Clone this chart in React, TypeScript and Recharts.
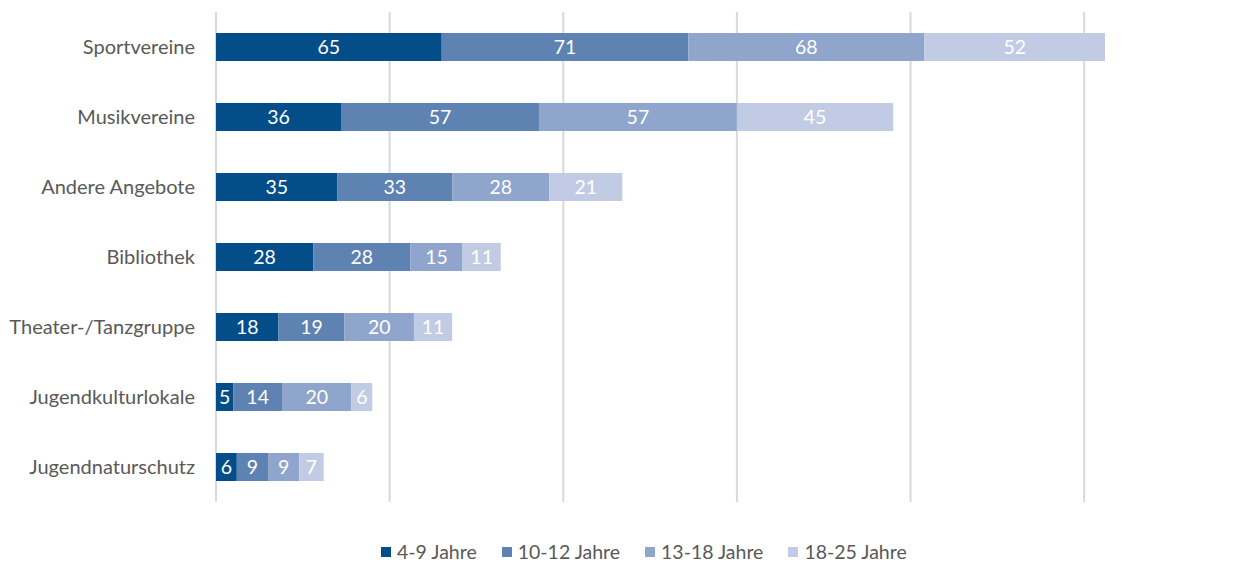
import { Bar, BarChart, CartesianGrid, LabelList, Legend, XAxis, YAxis } from "recharts";

const categories = [
  "Sportvereine",
  "Musikvereine",
  "Andere Angebote",
  "Bibliothek",
  "Theater-/Tanzgruppe",
  "Jugendkulturlokale",
  "Jugendnaturschutz",
];
const age4to9 = [65, 36, 35, 28, 18, 5, 6];
const age10to12 = [71, 57, 33, 28, 19, 14, 9];
const age13to18 = [68, 57, 28, 15, 20, 20, 9];
const age18to25 = [52, 45, 21, 11, 11, 6, 7];
const xTicks = [0, 50, 100, 150, 200, 250];
const X_MAX = 256;

const series = [
  { key: "a", name: "4-9 Jahre", color: "#034E89" },
  { key: "b", name: "10-12 Jahre", color: "#5E82B1" },
  { key: "c", name: "13-18 Jahre", color: "#8FA5CC" },
  { key: "d", name: "18-25 Jahre", color: "#C1CCE4" },
];

const data = categories.map((name, i) => ({
  name,
  a: age4to9[i],
  b: age10to12[i],
  c: age13to18[i],
  d: age18to25[i],
}));

const FONT = "Lato, 'Open Sans', sans-serif";

function renderLegend() {
  return (
    <div style={{ display: "flex", fontFamily: FONT, fontSize: 19.5, color: "#595959" }}>
      {series.map((s) => (
        <div key={s.key} style={{ display: "flex", alignItems: "center", marginRight: 25 }}>
          <span style={{ width: 10, height: 10, background: s.color, marginRight: 6 }} />
          <span>{s.name}</span>
        </div>
      ))}
    </div>
  );
}

// gridlines only at the tick values, not at the domain end
const gridLines = ({ offset }: any) =>
  xTicks.map((t) => offset.left + (t / X_MAX) * offset.width);

export default function App() {
  return (
    <div style={{ width: 1246, height: 562, background: "#fff" }}>
      <style>{"body{margin:0}"}</style>
      <BarChart
        width={1246}
        height={562}
        data={data}
        layout="vertical"
        margin={{ top: 12, right: 141, left: 0, bottom: 60 }}
        barSize={28}
      >
        <CartesianGrid
          horizontal={false}
          stroke="#d9d9d9"
          strokeWidth={2}
          verticalCoordinatesGenerator={gridLines}
        />
        <XAxis type="number" domain={[0, X_MAX]} ticks={xTicks} hide />
        <YAxis
          type="category"
          dataKey="name"
          width={216}
          axisLine={false}
          tickLine={false}
          tickSize={0}
          tickMargin={21}
          tick={{ fill: "#595959", fontSize: 20, fontFamily: FONT }}
        />
        <Legend
          verticalAlign="middle"
          content={renderLegend}
          wrapperStyle={{ top: 540, left: 381, width: "auto", height: "auto" }}
        />
        {series.map((s) => (
          <Bar key={s.key} dataKey={s.key} name={s.name} stackId="1" fill={s.color} isAnimationActive={false}>
            <LabelList
              dataKey={s.key}
              position="center"
              fill="#ffffff"
              style={{ fontSize: 19.5, fontFamily: FONT }}
            />
          </Bar>
        ))}
      </BarChart>
    </div>
  );
}
